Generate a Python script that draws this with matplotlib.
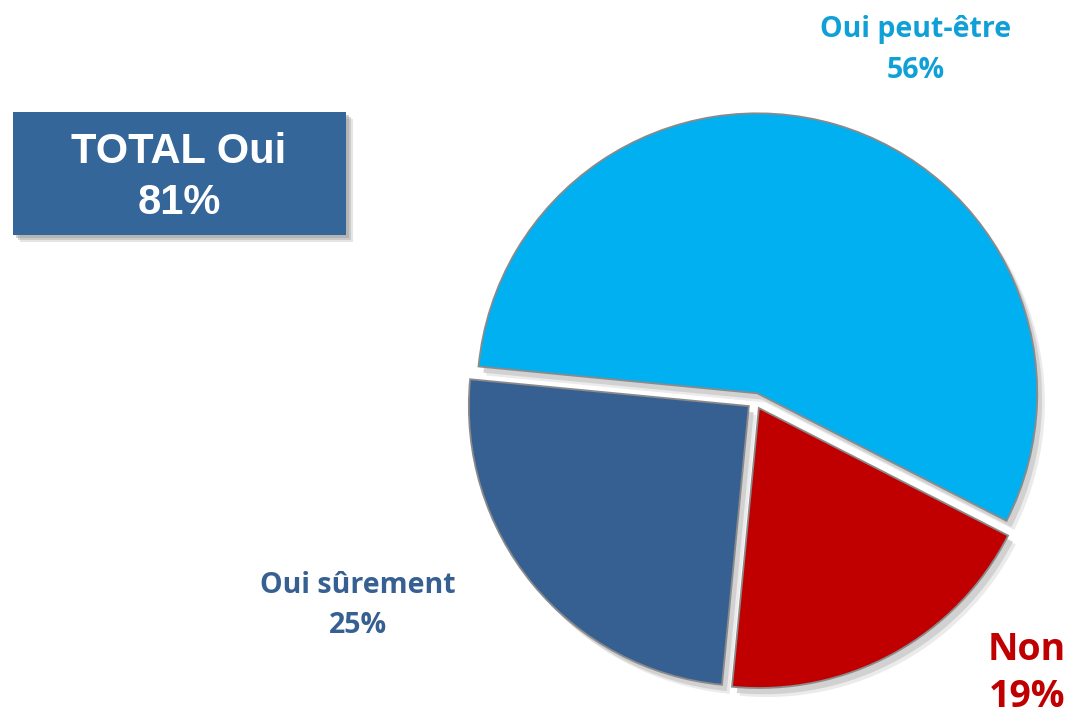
import matplotlib
matplotlib.use("Agg")
import matplotlib.pyplot as plt
from matplotlib.patches import Rectangle, Shadow

# Data
labels = ["Oui peut-être", "Non", "Oui sûrement"]
values = [56, 19, 25]
colors = ["#00B0F0", "#C00000", "#376092"]
label_colors = ["#0FA0D8", "#C00000", "#376092"]
total_title = "TOTAL Oui"
total_value = "81%"

W, H = 1067, 715
fig = plt.figure(figsize=(W / 100, H / 100), dpi=100)
ax = fig.add_axes([0, 0, 1, 1])

center = (755, H - 401)
radius = 280
wedges, _ = ax.pie(values, colors=colors, startangle=174.5, counterclock=False,
                   center=center, radius=radius, explode=[8, 8, 8], frame=True,
                   wedgeprops=dict(edgecolor="#8a8a8a", linewidth=1.3),
                   shadow=dict(ox=3.5, oy=-4.5, facecolor="#cfcfcf", edgecolor="none", alpha=0.9))
# soft outer halo of the shadow
for w in wedges:
    s = Shadow(w, 5.5, -6.5, facecolor="#e6e6e6", edgecolor="none", alpha=0.8)
    s.set_zorder(w.get_zorder() - 0.5)
    ax.add_patch(s)

ax.set_xlim(0, W)
ax.set_ylim(0, H)
ax.set_aspect("equal")
ax.axis("off")

font = "Open Sans"
# labels: (x center, baseline1, baseline2, size)
label_pos = {
    "Oui peut-être": (916, 37, 78, 20.5),
    "Non": (1027, 660, 707, 27),
    "Oui sûrement": (358, 593, 633, 20.5),
}
for lab, val, col in zip(labels, values, label_colors):
    x, b1, b2, fs = label_pos[lab]
    ax.text(x, H - b1, lab, ha="center", va="baseline", fontsize=fs,
            fontweight="bold", color=col, family=font)
    ax.text(x, H - b2, f"{val}%", ha="center", va="baseline", fontsize=fs,
            fontweight="bold", color=col, family=font)

# TOTAL box with shadow
bx, by, bw, bh = 12.5, H - 235, 333, 123
for off, a in [(7, 0.25), (5, 0.35), (3, 0.45)]:
    ax.add_patch(Rectangle((bx + off, by - off), bw, bh, facecolor="#9a9a9a",
                           edgecolor="none", alpha=a, zorder=3))
ax.add_patch(Rectangle((bx, by), bw, bh, facecolor="#346699", edgecolor="none", zorder=4))
ax.text(bx + bw / 2, H - 163, total_title, ha="center", va="baseline", fontsize=30,
        fontweight="bold", color="white", family="Liberation Sans", zorder=5)
ax.text(bx + bw / 2, H - 214, total_value, ha="center", va="baseline", fontsize=30,
        fontweight="bold", color="white", family="Liberation Sans", zorder=5)

fig.savefig("out.png", dpi=100)
